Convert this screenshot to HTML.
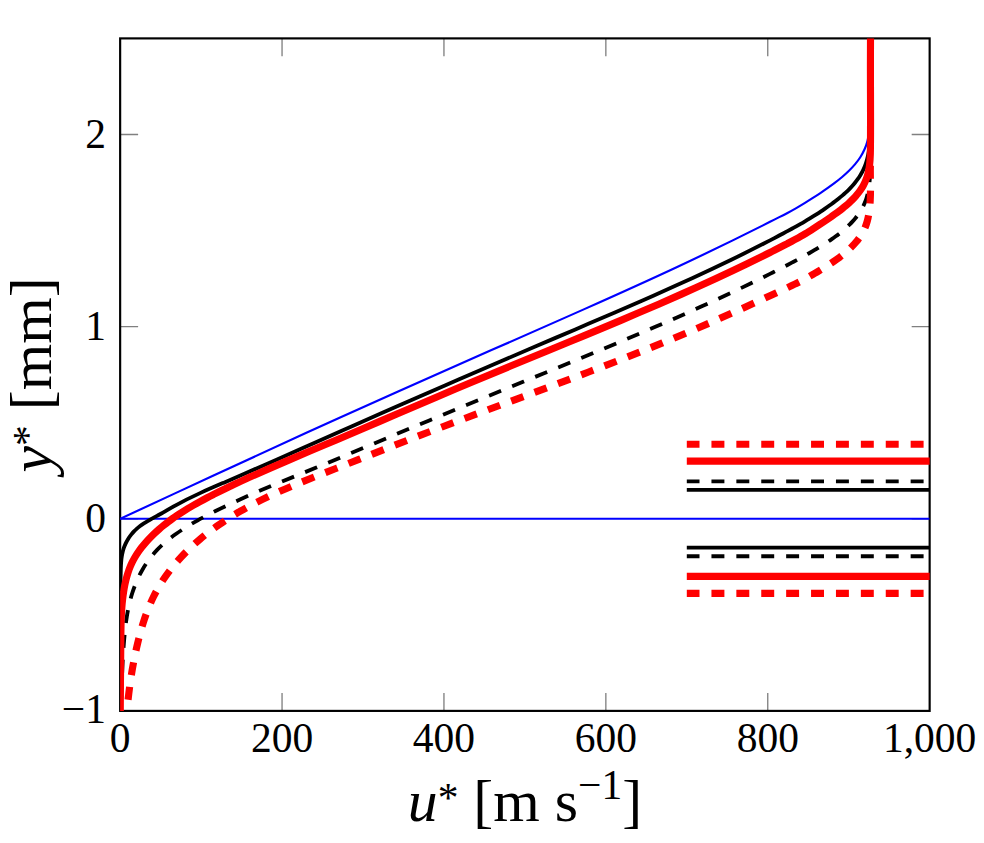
<!DOCTYPE html>
<html lang="en"><head><meta charset="utf-8"><title>Velocity profiles</title>
<style>
html,body{margin:0;padding:0;background:#fff}
body{width:984px;height:843px;position:relative;overflow:hidden;font-family:"Liberation Serif",serif}
svg{position:absolute;left:0;top:0;display:block}
.t{position:absolute;color:transparent;white-space:nowrap;line-height:1;margin:0}
</style></head><body>
<svg width="984" height="843" viewBox="0 0 984 843" role="img" aria-label="Velocity profiles u* versus y*">
<rect width="984" height="843" fill="#fff"/>
<defs><clipPath id="c"><rect x="120.15" y="38.40" width="809.50" height="672.50"/></clipPath></defs>
<path d="M282.05 710.90V692.93 M282.05 38.40V56.37 M443.95 710.90V692.93 M443.95 38.40V56.37 M605.85 710.90V692.93 M605.85 38.40V56.37 M767.75 710.90V692.93 M767.75 38.40V56.37 M120.15 518.76H138.12 M929.65 518.76H911.68 M120.15 326.61H138.12 M929.65 326.61H911.68 M120.15 134.47H138.12 M929.65 134.47H911.68" stroke="#808080" stroke-width="1.33" fill="none"/>
<rect x="120.15" y="38.40" width="809.50" height="672.50" fill="none" stroke="#000" stroke-width="2.16"/>
<g clip-path="url(#c)" fill="none">
<path d="M120.15 518.76H929.65" stroke="#0000ff" stroke-width="2.16"/>
<path d="M120.15 518.82 C151.09 504.46 182.03 490.09 212.99 475.77 C243.90 461.46 274.83 447.19 305.82 433.05 C336.71 418.97 367.65 405.02 398.66 391.19 C429.56 377.41 460.52 363.75 491.49 350.11 C522.45 336.47 553.42 322.87 584.33 309.13 C615.38 295.32 646.38 281.39 677.16 266.99 C708.33 252.40 739.28 237.34 770.00 221.83 C772.92 220.36 775.83 218.88 778.75 217.41 C781.68 215.93 784.60 214.45 787.50 212.92 C790.45 211.36 793.37 209.75 796.25 208.08 C799.19 206.37 802.10 204.60 805.00 202.82 C807.64 201.20 810.27 199.57 812.88 197.90 C815.38 196.31 817.87 194.69 820.34 193.04 C822.86 191.36 825.36 189.65 827.83 187.91 C830.26 186.19 832.66 184.44 835.03 182.64 C837.44 180.81 839.82 178.92 842.13 176.97 C844.39 175.06 846.60 173.09 848.73 171.03 C850.90 168.92 852.99 166.72 854.94 164.41 C856.87 162.13 858.66 159.75 860.27 157.25 C861.90 154.71 863.35 152.05 864.56 149.28 C865.74 146.57 866.71 143.76 867.46 140.91 C868.23 137.98 868.77 134.99 869.19 131.99 C869.84 127.35 870.20 122.67 870.55 118.00" stroke="#0000ff" stroke-width="2.16"/>
<path d="M120.20 740.00 C120.37 723.28 120.54 706.57 120.53 689.85 C120.51 673.24 120.30 656.62 120.21 640.00 C120.17 633.34 120.15 626.69 120.15 620.03 C120.15 613.36 120.17 606.68 120.24 600.01 C120.28 595.19 120.34 590.36 120.43 585.54 C120.52 580.70 120.63 575.85 120.76 571.01 C120.81 569.31 120.86 567.60 120.94 565.90 C121.02 564.20 121.12 562.51 121.27 560.82 C121.41 559.28 121.59 557.75 121.83 556.23 C122.06 554.72 122.36 553.22 122.73 551.74 C123.06 550.39 123.47 549.06 123.93 547.74 C124.39 546.44 124.91 545.15 125.49 543.89 C126.27 542.19 127.15 540.54 128.14 538.95 C129.12 537.36 130.21 535.83 131.38 534.37 C132.21 533.34 133.08 532.35 133.99 531.39 C134.91 530.43 135.87 529.51 136.87 528.64 C137.90 527.73 138.98 526.87 140.08 526.04 C141.19 525.21 142.34 524.42 143.50 523.66 C144.87 522.77 146.26 521.91 147.67 521.09 C149.08 520.25 150.51 519.45 151.94 518.65 C153.78 517.63 155.62 516.62 157.46 515.61 C159.29 514.61 161.13 513.61 162.95 512.58 C165.08 511.38 167.20 510.16 169.32 508.93 C171.43 507.72 173.55 506.50 175.68 505.31 C183.61 500.90 191.78 496.90 200.04 493.12 C208.31 489.33 216.67 485.75 225.02 482.15 C238.02 476.55 251.01 470.90 263.97 465.21 C276.94 459.53 289.89 453.81 302.84 448.08 C315.82 442.33 328.80 436.57 341.77 430.81 C354.75 425.06 367.73 419.30 380.71 413.57 C393.67 407.85 406.64 402.16 419.62 396.48 C432.60 390.81 445.59 385.15 458.59 379.52 C471.54 373.90 484.51 368.30 497.48 362.72 C510.45 357.14 523.43 351.58 536.42 346.03 C549.40 340.48 562.39 334.96 575.37 329.41 C588.35 323.87 601.33 318.32 614.28 312.72 C627.32 307.09 640.33 301.42 653.31 295.67 C666.29 289.93 679.24 284.11 692.14 278.19 C705.26 272.17 718.33 266.04 731.32 259.75 C744.31 253.47 757.23 247.02 770.03 240.36 C771.49 239.60 772.94 238.84 774.39 238.07 C775.85 237.31 777.30 236.54 778.75 235.77 C780.21 235.00 781.66 234.23 783.11 233.45 C784.57 232.67 786.02 231.89 787.47 231.10 C788.93 230.31 790.39 229.52 791.85 228.72 C793.31 227.92 794.77 227.11 796.22 226.30 C797.69 225.48 799.16 224.65 800.63 223.81 C802.10 222.98 803.56 222.13 805.01 221.28 C806.36 220.49 807.70 219.70 809.03 218.89 C810.37 218.09 811.70 217.28 813.02 216.46 C814.30 215.66 815.57 214.86 816.84 214.04 C818.11 213.23 819.38 212.41 820.63 211.58 C821.87 210.76 823.11 209.93 824.33 209.09 C825.56 208.25 826.78 207.40 827.99 206.55 C829.21 205.68 830.42 204.81 831.62 203.93 C832.82 203.05 834.02 202.15 835.20 201.25 C836.40 200.33 837.59 199.41 838.77 198.47 C839.95 197.52 841.11 196.57 842.26 195.59 C843.40 194.62 844.53 193.64 845.63 192.63 C846.73 191.62 847.82 190.59 848.87 189.54 C849.95 188.47 851.00 187.38 852.02 186.25 C853.04 185.13 854.03 183.98 854.98 182.79 C855.92 181.63 856.83 180.44 857.69 179.22 C858.56 178.00 859.38 176.75 860.17 175.47 C860.95 174.19 861.69 172.89 862.38 171.56 C863.07 170.23 863.71 168.88 864.29 167.51 C864.88 166.13 865.41 164.73 865.89 163.31 C866.37 161.90 866.80 160.46 867.18 159.02 C867.56 157.57 867.89 156.12 868.19 154.65 C868.48 153.19 868.73 151.71 868.94 150.23 C869.16 148.73 869.34 147.22 869.50 145.71 C869.65 144.20 869.77 142.68 869.88 141.16 C870.03 138.97 870.14 136.77 870.24 134.57 C870.35 132.38 870.45 130.19 870.55 128.00" stroke="#000" stroke-width="3.82"/>
<path d="M120.90 740.00 C120.97 733.33 121.03 726.66 121.11 719.99 C121.19 713.33 121.27 706.66 121.40 700.00 C121.51 693.83 121.66 687.67 121.85 681.50 C122.05 675.33 122.30 669.17 122.61 663.00 C122.80 659.39 123.00 655.78 123.24 652.18 C123.47 648.56 123.74 644.95 124.03 641.35 C124.37 637.17 124.75 633.00 125.21 628.83 C125.67 624.68 126.22 620.53 126.88 616.40 C127.53 612.34 128.30 608.30 129.22 604.29 C130.14 600.29 131.22 596.32 132.49 592.41 C133.76 588.47 135.22 584.60 136.88 580.81 C138.54 577.01 140.39 573.30 142.44 569.71 C144.52 566.08 146.80 562.56 149.28 559.19 C151.77 555.83 154.46 552.62 157.35 549.61 C160.19 546.65 163.23 543.87 166.39 541.25 C169.56 538.62 172.86 536.14 176.23 533.77 C179.63 531.37 183.11 529.08 186.64 526.89 C190.17 524.69 193.76 522.59 197.38 520.56 C200.28 518.94 203.20 517.37 206.14 515.83 C209.08 514.29 212.04 512.78 215.01 511.30 C219.14 509.24 223.28 507.23 227.45 505.27 C231.62 503.30 235.80 501.37 240.00 499.47 C252.47 493.85 265.06 488.53 277.70 483.31 C290.35 478.09 303.04 472.99 315.70 467.80 C328.36 462.61 340.99 457.34 353.61 452.05 C366.23 446.76 378.84 441.44 391.46 436.15 C404.05 430.87 416.66 425.62 429.27 420.40 C441.88 415.17 454.50 409.96 467.13 404.77 C479.74 399.58 492.35 394.41 504.97 389.25 C517.59 384.08 530.21 378.92 542.83 373.75 C555.47 368.58 568.11 363.40 580.75 358.20 C593.38 353.00 606.00 347.77 618.60 342.48 C631.28 337.16 643.94 331.79 656.57 326.33 C669.19 320.88 681.78 315.35 694.32 309.71 C707.05 303.99 719.73 298.16 732.35 292.19 C744.97 286.22 757.52 280.12 770.00 273.86 C771.45 273.13 772.91 272.39 774.37 271.66 C775.82 270.92 777.28 270.18 778.73 269.44 C780.19 268.70 781.65 267.95 783.10 267.20 C784.56 266.46 786.01 265.70 787.46 264.95 C788.93 264.19 790.39 263.42 791.85 262.65 C793.31 261.88 794.76 261.11 796.22 260.33 C797.68 259.54 799.15 258.75 800.61 257.95 C802.07 257.15 803.53 256.34 804.99 255.53 C806.36 254.77 807.72 254.00 809.08 253.22 C810.44 252.44 811.80 251.65 813.16 250.86 C814.43 250.11 815.71 249.36 816.98 248.59 C818.25 247.83 819.52 247.06 820.78 246.28 C822.06 245.50 823.33 244.70 824.60 243.89 C825.86 243.09 827.12 242.27 828.38 241.44 C829.62 240.62 830.86 239.78 832.09 238.92 C833.32 238.07 834.53 237.20 835.74 236.32 C836.95 235.43 838.14 234.52 839.32 233.59 C840.51 232.66 841.67 231.72 842.82 230.75 C843.97 229.77 845.11 228.78 846.23 227.76 C847.35 226.73 848.44 225.69 849.52 224.62 C850.58 223.56 851.62 222.47 852.62 221.36 C853.63 220.25 854.61 219.12 855.56 217.95 C856.50 216.80 857.41 215.61 858.27 214.40 C859.14 213.19 859.96 211.95 860.74 210.69 C861.52 209.43 862.25 208.14 862.92 206.83 C863.60 205.51 864.22 204.17 864.78 202.81 C865.36 201.41 865.87 199.99 866.33 198.55 C866.78 197.11 867.18 195.65 867.54 194.17 C867.89 192.72 868.19 191.25 868.46 189.78 C868.72 188.31 868.95 186.83 869.14 185.35 C869.34 183.84 869.51 182.33 869.65 180.82 C869.79 179.31 869.90 177.80 869.99 176.28 C870.08 174.80 870.15 173.31 870.21 171.83 C870.26 170.34 870.30 168.85 870.33 167.37 C870.36 165.86 870.38 164.35 870.40 162.84 C870.41 161.34 870.43 159.83 870.44 158.32 C870.45 156.94 870.47 155.55 870.49 154.16 C870.51 152.78 870.54 151.39 870.57 150.01" stroke="#000" stroke-width="3.82" stroke-dasharray="12.95 11.95" stroke-dashoffset="7.29"/>
<path d="M120.30 740.00 C120.28 734.67 120.26 729.33 120.26 723.99 C120.26 718.66 120.27 713.33 120.29 708.00 C120.31 702.50 120.34 697.00 120.38 691.50 C120.42 686.00 120.46 680.50 120.51 675.00 C120.56 669.40 120.61 663.80 120.66 658.20 C120.71 652.59 120.76 646.98 120.81 641.37 C120.83 638.60 120.86 635.83 120.89 633.05 C120.92 630.28 120.97 627.51 121.03 624.73 C121.10 621.96 121.19 619.19 121.31 616.42 C121.43 613.65 121.59 610.89 121.79 608.13 C121.99 605.36 122.23 602.60 122.54 599.84 C122.84 597.08 123.20 594.33 123.62 591.59 C123.93 589.65 124.26 587.71 124.64 585.79 C125.02 583.87 125.43 581.95 125.90 580.05 C126.26 578.57 126.66 577.11 127.08 575.65 C127.51 574.20 127.96 572.75 128.46 571.32 C129.00 569.76 129.58 568.21 130.21 566.69 C130.84 565.16 131.52 563.66 132.25 562.18 C133.12 560.41 134.06 558.67 135.06 556.98 C136.07 555.27 137.15 553.60 138.27 551.97 C139.37 550.38 140.53 548.82 141.72 547.30 C142.92 545.76 144.16 544.27 145.44 542.80 C146.87 541.15 148.36 539.55 149.88 537.98 C151.39 536.41 152.95 534.88 154.53 533.38 C156.03 531.97 157.55 530.59 159.10 529.23 C160.64 527.89 162.20 526.57 163.79 525.28 C165.23 524.11 166.69 522.96 168.17 521.83 C169.65 520.70 171.14 519.60 172.65 518.51 C174.18 517.41 175.73 516.33 177.29 515.27 C178.86 514.21 180.43 513.18 182.02 512.16 C183.82 511.00 185.64 509.86 187.47 508.75 C189.31 507.64 191.15 506.54 193.01 505.47 C195.33 504.13 197.68 502.82 200.03 501.54 C202.39 500.25 204.76 498.99 207.14 497.75 C209.26 496.64 211.39 495.55 213.53 494.48 C215.66 493.40 217.80 492.34 219.95 491.28 C221.68 490.43 223.41 489.59 225.14 488.75 C226.87 487.91 228.61 487.08 230.35 486.25 C233.61 484.69 236.87 483.16 240.15 481.63 C243.42 480.11 246.70 478.61 249.99 477.11 C262.27 471.54 274.62 466.15 287.01 460.85 C299.41 455.54 311.84 450.31 324.26 445.05 C336.67 439.79 349.07 434.50 361.46 429.20 C373.85 423.90 386.23 418.58 398.62 413.28 C410.97 407.99 423.32 402.70 435.69 397.44 C448.05 392.18 460.43 386.95 472.82 381.76 C485.18 376.58 497.56 371.44 509.95 366.32 C522.34 361.20 534.74 356.10 547.14 350.99 C559.54 345.88 571.95 340.77 584.34 335.63 C596.73 330.49 609.10 325.32 621.46 320.10 C633.89 314.84 646.30 309.54 658.68 304.16 C671.06 298.77 683.40 293.32 695.70 287.76 C708.20 282.11 720.65 276.36 733.04 270.48 C745.43 264.60 757.77 258.59 770.03 252.44 C771.48 251.71 772.94 250.97 774.39 250.24 C775.85 249.50 777.30 248.76 778.75 248.02 C780.20 247.28 781.65 246.54 783.10 245.80 C784.55 245.06 786.00 244.31 787.44 243.56 C788.91 242.80 790.38 242.04 791.84 241.27 C793.31 240.50 794.77 239.73 796.22 238.94 C797.71 238.13 799.19 237.31 800.67 236.48 C802.14 235.64 803.60 234.79 805.05 233.92 C806.37 233.12 807.68 232.31 808.98 231.49 C810.28 230.67 811.58 229.84 812.87 229.00 C814.13 228.19 815.39 227.38 816.65 226.56 C817.90 225.74 819.16 224.92 820.41 224.10 C821.66 223.27 822.90 222.44 824.15 221.61 C825.39 220.78 826.63 219.94 827.87 219.09 C829.09 218.25 830.31 217.40 831.53 216.55 C832.74 215.69 833.95 214.83 835.16 213.96 C836.36 213.09 837.56 212.21 838.76 211.31 C839.95 210.42 841.13 209.51 842.30 208.59 C843.47 207.66 844.63 206.72 845.77 205.75 C846.91 204.79 848.04 203.80 849.14 202.79 C850.26 201.76 851.36 200.71 852.43 199.63 C853.50 198.54 854.54 197.43 855.55 196.29 C856.54 195.17 857.49 194.03 858.40 192.85 C859.31 191.67 860.19 190.47 861.01 189.23 C861.84 187.99 862.62 186.72 863.34 185.41 C864.05 184.11 864.72 182.78 865.31 181.41 C865.92 180.02 866.45 178.60 866.93 177.16 C867.40 175.72 867.81 174.26 868.16 172.78 C868.51 171.34 868.80 169.89 869.05 168.43 C869.29 166.97 869.49 165.50 869.66 164.03 C869.83 162.53 869.96 161.02 870.06 159.51 C870.16 158.00 870.23 156.48 870.29 154.97 C870.34 153.48 870.37 151.98 870.40 150.49 C870.42 148.99 870.44 147.50 870.45 146.01 C870.48 141.84 870.51 137.66 870.52 133.49 C870.54 129.34 870.55 125.19 870.55 121.04 C870.56 104.33 870.45 87.62 870.43 70.91 C870.41 53.94 870.48 36.97 870.55 20.00" stroke="#ff0000" stroke-width="7.14"/>
<path d="M125.00 740.00 C125.44 732.19 125.87 724.37 126.48 716.57 C127.09 708.80 127.87 701.03 128.81 693.29 C129.31 689.22 129.85 685.15 130.44 681.09 C131.03 677.02 131.68 672.96 132.38 668.92 C133.11 664.72 133.89 660.54 134.74 656.37 C135.60 652.18 136.51 648.01 137.50 643.85 C138.46 639.77 139.49 635.71 140.61 631.67 C141.73 627.63 142.93 623.61 144.25 619.63 C145.56 615.66 146.99 611.72 148.55 607.84 C150.10 603.98 151.78 600.18 153.62 596.46 C155.36 592.94 157.24 589.48 159.25 586.11 C161.26 582.74 163.39 579.45 165.63 576.24 C168.03 572.81 170.56 569.48 173.20 566.23 C175.85 562.98 178.62 559.82 181.48 556.75 C184.34 553.70 187.29 550.74 190.32 547.87 C193.37 544.98 196.50 542.19 199.71 539.48 C202.84 536.83 206.05 534.26 209.32 531.77 C212.59 529.27 215.93 526.86 219.32 524.51 C222.73 522.15 226.21 519.86 229.72 517.64 C233.24 515.43 236.79 513.28 240.39 511.21 C243.93 509.16 247.51 507.18 251.12 505.26 C254.73 503.35 258.36 501.49 262.02 499.68 C273.79 493.87 285.82 488.60 297.95 483.58 C310.09 478.56 322.33 473.79 334.55 468.99 C346.66 464.23 358.75 459.43 370.85 454.65 C382.95 449.86 395.04 445.09 407.17 440.38 C419.22 435.69 431.30 431.07 443.39 426.48 C455.48 421.90 467.58 417.35 479.69 412.82 C491.79 408.30 503.89 403.79 515.99 399.29 C528.09 394.78 540.19 390.27 552.28 385.73 C564.41 381.18 576.53 376.60 588.64 371.98 C600.74 367.36 612.83 362.69 624.88 357.95 C637.04 353.18 649.17 348.33 661.26 343.39 C673.35 338.44 685.40 333.41 697.40 328.26 C709.58 323.03 721.71 317.68 733.81 312.25 C745.90 306.83 757.97 301.32 770.01 295.77 C771.47 295.09 772.93 294.42 774.39 293.75 C775.85 293.07 777.31 292.40 778.77 291.72 C780.22 291.05 781.68 290.38 783.13 289.70 C784.59 289.02 786.04 288.34 787.49 287.66 C788.96 286.97 790.42 286.27 791.88 285.57 C793.33 284.86 794.79 284.15 796.24 283.43 C797.71 282.70 799.18 281.95 800.65 281.20 C802.11 280.44 803.56 279.67 805.01 278.89 C806.36 278.16 807.70 277.41 809.04 276.66 C810.37 275.91 811.70 275.14 813.03 274.37 C814.33 273.61 815.63 272.84 816.92 272.07 C818.22 271.29 819.51 270.51 820.80 269.73 C822.07 268.95 823.33 268.18 824.60 267.39 C825.86 266.61 827.12 265.82 828.37 265.02 C829.65 264.19 830.93 263.36 832.20 262.51 C833.47 261.67 834.72 260.81 835.97 259.93 C837.19 259.07 838.40 258.19 839.59 257.30 C840.79 256.40 841.96 255.48 843.13 254.54 C844.27 253.62 845.40 252.67 846.51 251.70 C847.62 250.72 848.71 249.72 849.78 248.70 C850.88 247.64 851.96 246.56 853.00 245.44 C854.05 244.33 855.06 243.19 856.04 242.01 C856.99 240.88 857.90 239.71 858.77 238.52 C859.64 237.33 860.46 236.11 861.24 234.86 C862.04 233.58 862.78 232.27 863.47 230.93 C864.16 229.60 864.79 228.23 865.35 226.83 C865.90 225.46 866.38 224.07 866.81 222.65 C867.24 221.23 867.62 219.79 867.95 218.34 C868.28 216.87 868.57 215.38 868.82 213.89 C869.06 212.39 869.27 210.89 869.45 209.39 C869.63 207.90 869.78 206.42 869.90 204.93 C870.03 203.44 870.13 201.95 870.21 200.46 C870.29 198.95 870.34 197.45 870.39 195.94 C870.43 194.43 870.46 192.92 870.47 191.41 C870.48 189.91 870.49 188.40 870.48 186.89 C870.47 185.38 870.46 183.88 870.44 182.37 C870.39 178.31 870.31 174.24 870.32 170.18 C870.33 166.12 870.44 162.06 870.56 158.00" stroke="#ff0000" stroke-width="7.14" stroke-dasharray="12.95 11.95" stroke-dashoffset="9.45"/>
<path d="M686.80 489.94H934.65 M686.80 547.58H934.65" stroke="#000" stroke-width="3.82"/>
<path d="M686.80 481.29H934.65 M686.80 556.23H934.65" stroke="#000" stroke-width="3.82" stroke-dasharray="12.95 11.95" stroke-dashoffset="0.25"/>
<path d="M686.80 461.11H934.65 M686.80 576.40H934.65" stroke="#ff0000" stroke-width="7.14"/>
<path d="M686.80 444.21H934.65 M686.80 593.31H934.65" stroke="#ff0000" stroke-width="7.14" stroke-dasharray="12.95 11.95" stroke-dashoffset="0.25"/>
</g>
<g fill="#000" font-family="'Liberation Serif', serif">
<g font-size="41.5" text-anchor="middle">
<text x="120.15" y="752">0</text>
<text x="282.05" y="752">200</text>
<text x="443.95" y="752">400</text>
<text x="605.85" y="752">600</text>
<text x="767.75" y="752">800</text>
<text x="929.65" y="752">1,000</text>
</g>
<g font-size="41.5" text-anchor="end">
<text x="105.9" y="722.9">−1</text>
<text x="105.9" y="532.16">0</text>
<text x="105.9" y="340.01">1</text>
<text x="105.9" y="147.87">2</text>
</g>
<text x="524.9" y="820.8" font-size="59.8" text-anchor="middle"><tspan font-style="italic">u</tspan><tspan font-size="41.5" dy="-9">*</tspan><tspan dy="9"> [m s</tspan><tspan font-size="41.5" dy="-21.7">−1</tspan><tspan dy="21.7">]</tspan></text>
<text transform="translate(51 472.4) rotate(-90)" x="97.5" y="0" font-size="59.8" text-anchor="middle"><tspan font-style="italic">y</tspan><tspan font-size="41.5" dy="-9">*</tspan><tspan dy="9"> [mm]</tspan></text>
</g>
</svg>
<span class="t" style="left:109.8px;top:718.0px;font-size:41.5px;">0</span>
<span class="t" style="left:250.9px;top:718.0px;font-size:41.5px;">200</span>
<span class="t" style="left:412.8px;top:718.0px;font-size:41.5px;">400</span>
<span class="t" style="left:574.7px;top:718.0px;font-size:41.5px;">600</span>
<span class="t" style="left:736.6px;top:718.0px;font-size:41.5px;">800</span>
<span class="t" style="left:882.9px;top:718.0px;font-size:41.5px;">1,000</span>
<span class="t" style="left:61.5px;top:688.9px;font-size:41.5px;">−1</span>
<span class="t" style="left:85.2px;top:496.8px;font-size:41.5px;">0</span>
<span class="t" style="left:85.2px;top:304.6px;font-size:41.5px;">1</span>
<span class="t" style="left:85.2px;top:112.5px;font-size:41.5px;">2</span>
<span class="t" style="left:407.0px;top:775.0px;font-size:59.8px;"><i>u</i><sup style="font-size:.7em">*</sup> [m s<sup style="font-size:.7em">−1</sup>]</span>
<span class="t" style="left:22.0px;top:472.0px;font-size:59.8px;transform-origin:0 0;transform:rotate(-90deg)"><i>y</i><sup style="font-size:.7em">*</sup> [mm]</span>
</body></html>
